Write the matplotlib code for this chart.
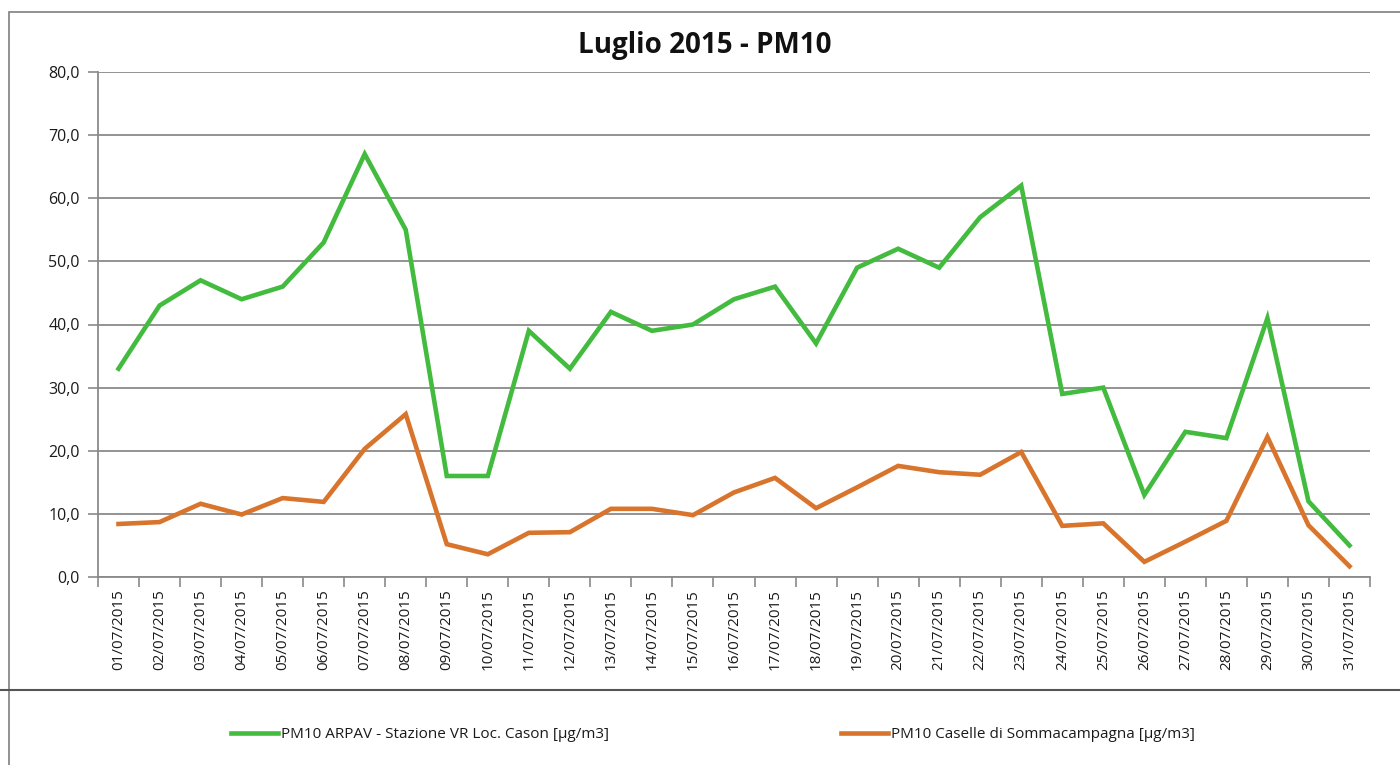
import matplotlib
matplotlib.use("Agg")
import matplotlib.pyplot as plt
from matplotlib.patches import Rectangle
from matplotlib.lines import Line2D
from matplotlib.ticker import FixedLocator, FuncFormatter

dates = [f"{d:02d}/07/2015" for d in range(1, 32)]
arpav = [33, 43, 47, 44, 46, 53, 67, 55, 16, 16, 39, 33, 42, 39, 40, 44, 46, 37,
         49, 52, 49, 57, 62, 29, 30, 13, 23, 22, 41, 12, 5]
caselle = [8.4, 8.7, 11.6, 9.9, 12.5, 11.9, 20.3, 25.8, 5.2, 3.6, 7.0, 7.1, 10.8,
           10.8, 9.8, 13.4, 15.7, 10.9, 14.2, 17.6, 16.6, 16.2, 19.8, 8.1, 8.5,
           2.4, 5.6, 8.9, 22.2, 8.2, 1.7]
labels = ["PM10 ARPAV - Stazione VR Loc. Cason [µg/m3]",
          "PM10 Caselle di Sommacampagna [µg/m3]"]
title = "Luglio 2015 - PM10"
yticks = [0, 10, 20, 30, 40, 50, 60, 70, 80]

plt.rcParams['font.family'] = ['Open Sans', 'DejaVu Sans']

W, H = 1400, 765
fig = plt.figure(figsize=(W / 100, H / 100), dpi=100)

# outer frame and legend separator
fig.patches.append(Rectangle((9 / W, -0.01), 1.2, 1 - 12 / H + 0.01,
                             transform=fig.transFigure, fill=False,
                             edgecolor='#7f7f7f', linewidth=1.2))
fig.lines.append(Line2D([0, 1], [1 - 690 / H] * 2, transform=fig.transFigure,
                        color='#555555', linewidth=1.5))

ax = fig.add_axes([98 / W, 1 - 577 / H, (1370 - 98) / W, (577 - 72) / H])
x = list(range(len(dates)))
ax.plot(x, arpav, color='#42bb3e', linewidth=3.3, label=labels[0],
        solid_joinstyle='miter')
ax.plot(x, caselle, color='#d8742c', linewidth=3.3, label=labels[1],
        solid_joinstyle='miter')

ax.set_xlim(-0.5, len(dates) - 0.5)
ax.set_ylim(0, 80)
ax.set_yticks(yticks)
ax.yaxis.set_major_formatter(FuncFormatter(lambda v, p: f"{v:.1f}".replace('.', ',')))
ax.yaxis.grid(True, color='#8a8a8a', linewidth=1.3)
ax.set_axisbelow(True)

ax.set_xticks(x)
ax.set_xticklabels(dates, rotation=90, fontsize=11, color='#1a1a1a')
ax.xaxis.set_minor_locator(FixedLocator([i - 0.5 for i in range(len(dates) + 1)]))
ax.tick_params(axis='x', which='major', length=0, pad=9)
ax.tick_params(axis='x', which='minor', length=7, color='#8a8a8a', width=1.2)
ax.tick_params(axis='y', length=7, color='#8a8a8a', width=1.2, labelsize=11.5,
               labelcolor='#1a1a1a', pad=6)

for s in ['top', 'right']:
    ax.spines[s].set_visible(False)
for s in ['left', 'bottom']:
    ax.spines[s].set_color('#8a8a8a')
    ax.spines[s].set_linewidth(1.3)

fig.text(705 / W, 1 - 45 / H, title, ha='center', va='center',
         fontsize=20, fontweight='bold', color='#111111')

fig.legend(loc='center', bbox_to_anchor=(713 / W, 1 - 735 / H), ncol=2,
           frameon=False, fontsize=11, handlelength=3.07, handletextpad=0.2,
           columnspacing=15.2, labelcolor='#1a1a1a')

fig.savefig("out.png", dpi=100, facecolor='white')
